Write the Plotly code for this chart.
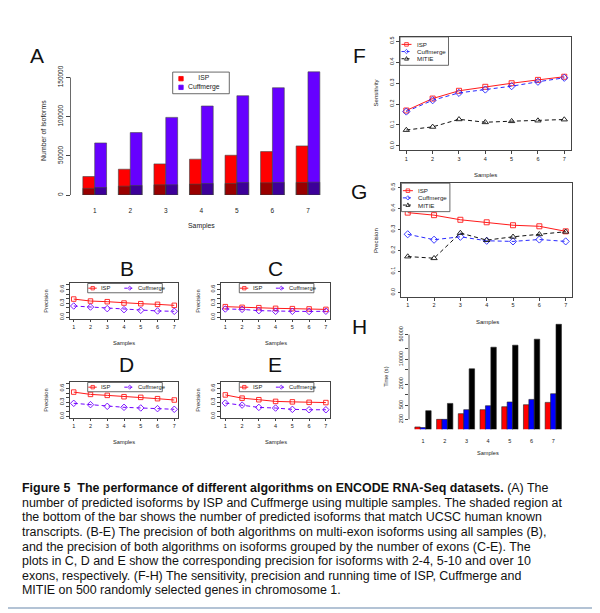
import plotly.graph_objects as go

# ---------------- data ----------------
samples = [1, 2, 3, 4, 5, 6, 7]

a_isp_total = [23700, 33000, 39800, 45800, 50800, 55500, 62700]
a_cuff_total = [66500, 79700, 99100, 113600, 126700, 136900, 157200]
a_isp_known = [8500, 11400, 13100, 14000, 14800, 15700, 16100]
a_cuff_known = [9700, 12300, 13100, 14800, 16100, 16100, 16500]

b_isp = [0.393, 0.350, 0.336, 0.307, 0.293, 0.279, 0.257]
b_cuff = [0.243, 0.221, 0.186, 0.164, 0.150, 0.136, 0.129]
c_isp = [0.229, 0.214, 0.207, 0.193, 0.186, 0.180, 0.170]
c_cuff = [0.179, 0.171, 0.143, 0.129, 0.129, 0.125, 0.130]
d_isp = [0.521, 0.471, 0.450, 0.421, 0.407, 0.379, 0.350]
d_cuff = [0.279, 0.250, 0.214, 0.193, 0.179, 0.164, 0.150]
e_isp = [0.460, 0.390, 0.356, 0.320, 0.310, 0.300, 0.295]
e_cuff = [0.284, 0.241, 0.191, 0.177, 0.149, 0.140, 0.140]

f_isp = [0.169, 0.226, 0.263, 0.282, 0.299, 0.315, 0.330]
f_cuff = [0.164, 0.218, 0.253, 0.269, 0.285, 0.306, 0.325]
f_mitie = [0.076, 0.091, 0.127, 0.113, 0.118, 0.121, 0.126]

g_isp = [0.380, 0.368, 0.346, 0.334, 0.320, 0.315, 0.291]
g_cuff = [0.277, 0.251, 0.265, 0.246, 0.243, 0.252, 0.243]
g_mitie = [0.171, 0.163, 0.283, 0.249, 0.265, 0.277, 0.289]

h_isp = [122, 200, 290, 376, 456, 520, 604]
h_cuff = [117, 200, 376, 486, 620, 733, 1062]
h_mitie = [352, 565, 5380, 22000, 25100, 37100, 98200]

a_yticks = [0, 50000, 100000, 150000]
prec_ticks = [0.0, 0.1, 0.2, 0.3, 0.4, 0.5, 0.6, 0.7]
prec_ticktext = ["0.0", "", "", "0.3", "", "", "0.6", ""]
fg_ticks = [0.0, 0.1, 0.2, 0.3, 0.4, 0.5]
fg_ticktext = ["0.0", "0.1", "0.2", "0.3", "0.4", "0.5"]
h_ticks = [200, 500, 1000, 2000, 5000, 10000, 20000, 50000]
h_ticktext = ["200", "500", "", "2000", "", "10000", "", "50000"]

caption_lines = [
    "<b>Figure 5  The performance of different algorithms on ENCODE RNA-Seq datasets.</b> (A) The",
    "number of predicted isoforms by ISP and Cuffmerge using multiple samples. The shaded region at",
    "the bottom of the bar shows the number of predicted isoforms that match UCSC human known",
    "transcripts. (B-E) The precision of both algorithms on multi-exon isoforms using all samples (B),",
    "and the precision of both algorithms on isoforms grouped by the number of exons (C-E). The",
    "plots in C, D and E show the corresponding precision for isoforms with 2-4, 5-10 and over 10",
    "exons, respectively. (F-H) The sensitivity, precision and running time of ISP, Cuffmerge and",
    "MITIE on 500 randomly selected genes in chromosome 1.",
]

# ---------------- helpers ----------------
W, H = 600, 613
OFF = 8  # the page body adds an 8px margin; compensate so the picture lines up
FONT = "Liberation Sans, Arial, sans-serif"
TXT = "#222222"
RED = "#FF1A1A"
PURPLE = "#7000FF"
BLUE = "#2828FF"


def fx(x):
    return (x - OFF) / W


def fy(y):
    return 1 - (y - OFF) / H


def dom_x(a, b):
    return [fx(a), fx(b)]


def dom_y(top, bottom):
    return [fy(bottom), fy(top)]


fig = go.Figure()
shapes = []
annotations = []


def text(x, y, s, size, angle=0, anchor="center", color=TXT, family=FONT):
    annotations.append(dict(
        x=fx(x), y=fy(y), xref="paper", yref="paper", text=s, showarrow=False,
        textangle=angle, xanchor=anchor, yanchor="middle",
        font=dict(size=size, color=color, family=family)))


def marker_shape(kind, cx, cy, r, color, filled=False):
    fill = color if filled else "rgba(0,0,0,0)"
    if kind == "square":
        shapes.append(dict(type="rect", xref="paper", yref="paper",
                           x0=fx(cx - r), x1=fx(cx + r), y0=fy(cy + r), y1=fy(cy - r),
                           line=dict(color=color, width=0.8), fillcolor=fill))
    elif kind == "diamond":
        p = "M{},{} L{},{} L{},{} L{},{} Z".format(
            fx(cx), fy(cy - r * 1.2), fx(cx + r * 1.2), fy(cy),
            fx(cx), fy(cy + r * 1.2), fx(cx - r * 1.2), fy(cy))
        shapes.append(dict(type="path", xref="paper", yref="paper", path=p,
                           line=dict(color=color, width=0.8), fillcolor=fill))
    elif kind == "triangle":
        p = "M{},{} L{},{} L{},{} Z".format(
            fx(cx), fy(cy - r * 1.2), fx(cx + r * 1.1), fy(cy + r * 0.8),
            fx(cx - r * 1.1), fy(cy + r * 0.8))
        shapes.append(dict(type="path", xref="paper", yref="paper", path=p,
                           line=dict(color=color, width=0.8), fillcolor=fill))


def legend_box(x0, y0, x1, y1):
    shapes.append(dict(type="rect", xref="paper", yref="paper",
                       x0=fx(x0), x1=fx(x1), y0=fy(y1), y1=fy(y0),
                       line=dict(color="#444", width=0.8), fillcolor="white"))


def legend_line_entry(x, y, label, color, dash, kind, size):
    shapes.append(dict(type="line", xref="paper", yref="paper",
                       x0=fx(x), x1=fx(x + 10), y0=fy(y), y1=fy(y),
                       line=dict(color=color, width=1, dash=dash)))
    marker_shape(kind, x + 5, y, 1.8, color)
    text(x + 13, y, label, size, anchor="left")


# ---------------- panel A (bars) ----------------
bar_line = dict(color="#444", width=0.6)
fig.add_bar(x=samples, y=a_isp_total, width=1 / 3, offset=-1 / 3, name="ISP",
            marker=dict(color="#FF0000", line=bar_line), xaxis="x", yaxis="y", showlegend=False)
fig.add_bar(x=samples, y=a_cuff_total, width=1 / 3, offset=0, name="Cuffmerge",
            marker=dict(color="#6600FF", line=bar_line), xaxis="x", yaxis="y", showlegend=False)
fig.add_bar(x=samples, y=a_isp_known, width=1 / 3, offset=-1 / 3, name="ISP (UCSC match)",
            marker=dict(color="rgba(0,0,0,0.4)", line=bar_line), xaxis="x", yaxis="y", showlegend=False)
fig.add_bar(x=samples, y=a_cuff_known, width=1 / 3, offset=0, name="Cuffmerge (UCSC match)",
            marker=dict(color="rgba(0,0,0,0.4)", line=bar_line), xaxis="x", yaxis="y", showlegend=False)

# ---------------- panels B-E (precision lines) ----------------
line_panels = [
    (2, b_isp, b_cuff),
    (3, c_isp, c_cuff),
    (4, d_isp, d_cuff),
    (5, e_isp, e_cuff),
]
for n, isp, cuff in line_panels:
    fig.add_scatter(x=samples, y=isp, mode="lines+markers", name="ISP",
                    line=dict(color=RED, width=1),
                    marker=dict(symbol="square-open", size=4.5, color=RED, line=dict(width=0.9)),
                    xaxis="x%d" % n, yaxis="y%d" % n, showlegend=False)
    fig.add_scatter(x=samples, y=cuff, mode="lines+markers", name="Cuffmerge",
                    line=dict(color=PURPLE, width=1, dash="4px,3px"),
                    marker=dict(symbol="diamond-open", size=5, color=PURPLE, line=dict(width=0.9)),
                    xaxis="x%d" % n, yaxis="y%d" % n, showlegend=False)

# ---------------- panels F, G ----------------
for n, isp, cuff, mitie in [(6, f_isp, f_cuff, f_mitie), (7, g_isp, g_cuff, g_mitie)]:
    fig.add_scatter(x=samples, y=isp, mode="lines+markers", name="ISP",
                    line=dict(color=RED, width=1),
                    marker=dict(symbol="square-open", size=5, color=RED, line=dict(width=0.9)),
                    xaxis="x%d" % n, yaxis="y%d" % n, showlegend=False)
    fig.add_scatter(x=samples, y=cuff, mode="lines+markers", name="Cuffmerge",
                    line=dict(color=BLUE, width=1, dash="4px,3px"),
                    marker=dict(symbol="diamond-open", size=5.5, color=BLUE, line=dict(width=0.9)),
                    xaxis="x%d" % n, yaxis="y%d" % n, showlegend=False)
    fig.add_scatter(x=samples, y=mitie, mode="lines+markers", name="MITIE",
                    line=dict(color="#111", width=1, dash="4px,3px"),
                    marker=dict(symbol="triangle-up-open", size=5.5, color="#111", line=dict(width=0.9)),
                    xaxis="x%d" % n, yaxis="y%d" % n, showlegend=False)

# ---------------- panel H (log bars) ----------------
for vals, col, off, nm in [(h_isp, "#FF0000", -0.375, "ISP"),
                           (h_cuff, "#0000FF", -0.125, "Cuffmerge"),
                           (h_mitie, "#000000", 0.125, "MITIE")]:
    fig.add_bar(x=samples, y=vals, width=0.25, offset=off, name=nm,
                marker=dict(color=col, line=dict(color="#222", width=0.6)),
                xaxis="x8", yaxis="y8", showlegend=False)

# ---------------- axes ----------------
tick_small = dict(size=5.5, color=TXT, family=FONT)
layout_axes = {}

# A
layout_axes["xaxis"] = dict(domain=dom_x(70.5, 329.3), range=[0.319, 7.6], anchor="y",
                            tickvals=samples, ticks="", showline=False, showgrid=False,
                            zeroline=False, tickfont=dict(size=6.5, color=TXT, family=FONT),
                            ticklabelstandoff=10)
layout_axes["yaxis"] = dict(domain=dom_y(65.9, 195.7), range=[0, 165000], anchor="x",
                            tickvals=a_yticks, ticktext=[str(v) for v in a_yticks],
                            tickangle=-90, ticks="outside", ticklen=4, tickcolor="#444",
                            tickwidth=0.8, showline=False, showgrid=False, zeroline=False,
                            tickfont=dict(size=6.5, color=TXT, family=FONT))
shapes.append(dict(type="line", xref="x domain", yref="y", x0=0, x1=0, y0=a_yticks[0],
                   y1=a_yticks[-1], line=dict(color="#444", width=0.8)))


def boxed_axes(n, xbox, ybox, yrange, tvals, ttext):
    common = dict(showline=True, mirror=True, linecolor="#444", linewidth=0.8,
                  ticks="outside", ticklen=3, tickcolor="#444", tickwidth=0.8,
                  showgrid=False, zeroline=False, tickfont=tick_small)
    layout_axes["xaxis%d" % n] = dict(domain=dom_x(*xbox), range=[0.76, 7.24],
                                      anchor="y%d" % n, tickvals=samples, **common)
    layout_axes["yaxis%d" % n] = dict(domain=dom_y(*ybox), range=yrange,
                                      anchor="x%d" % n, tickvals=tvals, ticktext=ttext,
                                      tickangle=-90, **common)


boxed_axes(2, (69.7, 178.3), (284.4, 319.6), [-0.028, 0.728], prec_ticks, prec_ticktext)
boxed_axes(3, (221.3, 329.9), (284.4, 319.6), [-0.028, 0.728], prec_ticks, prec_ticktext)
boxed_axes(4, (69.7, 178.3), (383.7, 418.9), [-0.028, 0.728], prec_ticks, prec_ticktext)
boxed_axes(5, (221.3, 329.9), (383.7, 418.9), [-0.028, 0.728], prec_ticks, prec_ticktext)
boxed_axes(6, (400, 570.6), (37, 150.6), [-0.02, 0.52], fg_ticks, fg_ticktext)
boxed_axes(7, (401.4, 572), (183.8, 297.6), [-0.02, 0.52], fg_ticks, fg_ticktext)

# H
layout_axes["xaxis8"] = dict(domain=dom_x(409, 567.3), range=[0.355, 7.645], anchor="y8",
                             tickvals=samples, ticks="", showline=False, showgrid=False,
                             zeroline=False, tickfont=tick_small, ticklabelstandoff=7)
layout_axes["yaxis8"] = dict(domain=dom_y(324.3, 430.7), type="log", range=[2.019, 5.02],
                             anchor="x8", tickvals=h_ticks, ticktext=h_ticktext,
                             tickangle=-90, ticks="outside", ticklen=3, tickcolor="#444",
                             tickwidth=0.8, showline=False, showgrid=False, zeroline=False,
                             tickfont=tick_small)
shapes.append(dict(type="line", xref="x8 domain", yref="y8", x0=0, x1=0, y0=h_ticks[0],
                   y1=h_ticks[-1], line=dict(color="#444", width=0.8)))

# ---------------- axis titles ----------------
text(201.7, 227, "Samples", 6.9)
text(43.3, 131, "Number of Isoforms", 6.9, angle=-90)
for (sx, sy, px_, py_) in [(124, 344.3, 45.7, 302), (276, 344.3, 197.7, 302),
                            (124, 443.7, 45.7, 401.3), (276, 443.7, 197.7, 401.3)]:
    text(sx, sy, "Samples", 5.7)
    text(px_, py_, "Precision", 5.7, angle=-90)
text(485, 175.7, "Samples", 6)
text(376, 93.7, "Sensitivity", 6, angle=-90)
text(487, 322.7, "Samples", 6)
text(376.7, 241, "Precision", 6, angle=-90)
text(488.3, 454, "Samples", 5.6)
text(386, 378, "Time (s)", 5.6, angle=-90)

# ---------------- panel letters ----------------
for letter, lx, ly in [("A", 36.7, 56), ("B", 126.7, 269.3), ("C", 275, 269.3),
                       ("D", 126.7, 365.7), ("E", 275, 365.7), ("F", 359.3, 55.7),
                       ("G", 359, 191.7), ("H", 359, 327.3)]:
    text(lx, ly, letter, 21, color="#111")

# ---------------- legends ----------------
# A
legend_box(172.7, 72.3, 229.3, 94)
marker_shape("square", 181, 78.9, 2.2, "#FF0000", filled=True)
marker_shape("square", 181, 87.6, 2.2, "#6600FF", filled=True)
text(185.5, 83.2, "ISP<br>Cuffmerge", 6.8, anchor="left")

# B-E horizontal legends
for bx, by in [(69.7, 284.4), (221.3, 284.4), (69.7, 383.7), (221.3, 383.7)]:
    lx0 = bx + 18
    legend_box(lx0, by, lx0 + 74.6, by + 9.3)
    cy = by + 4.7
    shapes.append(dict(type="line", xref="paper", yref="paper", x0=fx(lx0 + 0.6),
                       x1=fx(lx0 + 9), y0=fy(cy), y1=fy(cy), line=dict(color=RED, width=1)))
    marker_shape("square", lx0 + 5, cy, 1.7, RED)
    text(lx0 + 11.3, cy, "ISP", 5.8, anchor="left")
    shapes.append(dict(type="line", xref="paper", yref="paper", x0=fx(lx0 + 36.6),
                       x1=fx(lx0 + 46.3), y0=fy(cy), y1=fy(cy),
                       line=dict(color=PURPLE, width=1, dash="3px,2px")))
    marker_shape("diamond", lx0 + 42, cy, 1.7, PURPLE)
    text(lx0 + 48, cy, "Cuffmerge", 5.8, anchor="left")

# F, G legends
for bx, by in [(400, 37), (401.4, 183.8)]:
    legend_box(bx, by, bx + 48.5, by + 28.5)
    legend_line_entry(bx + 1.5, by + 7.5, "ISP", RED, "solid", "square", 6.2)
    legend_line_entry(bx + 1.5, by + 14.7, "Cuffmerge", BLUE, "3px,2px", "diamond", 6.2)
    legend_line_entry(bx + 1.5, by + 21.9, "MITIE", "#111", "3px,2px", "triangle", 6.2)

# ---------------- caption ----------------
for i, line in enumerate(caption_lines):
    text(20, 490 + i * 14.57, line, 12.45, anchor="left", color="#111")

shapes.append(dict(type="line", xref="paper", yref="paper", x0=0, x1=1,
                   y0=fy(610), y1=fy(610), line=dict(color="#B3C3D5", width=2)))

fig.update_layout(
    width=W, height=H, margin=dict(l=0, r=0, t=0, b=0),
    paper_bgcolor="white", plot_bgcolor="rgba(0,0,0,0)",
    barmode="overlay", showlegend=False,
    font=dict(family=FONT, color=TXT),
    shapes=shapes, annotations=annotations,
    **layout_axes,
)

fig.write_html("out.html")
